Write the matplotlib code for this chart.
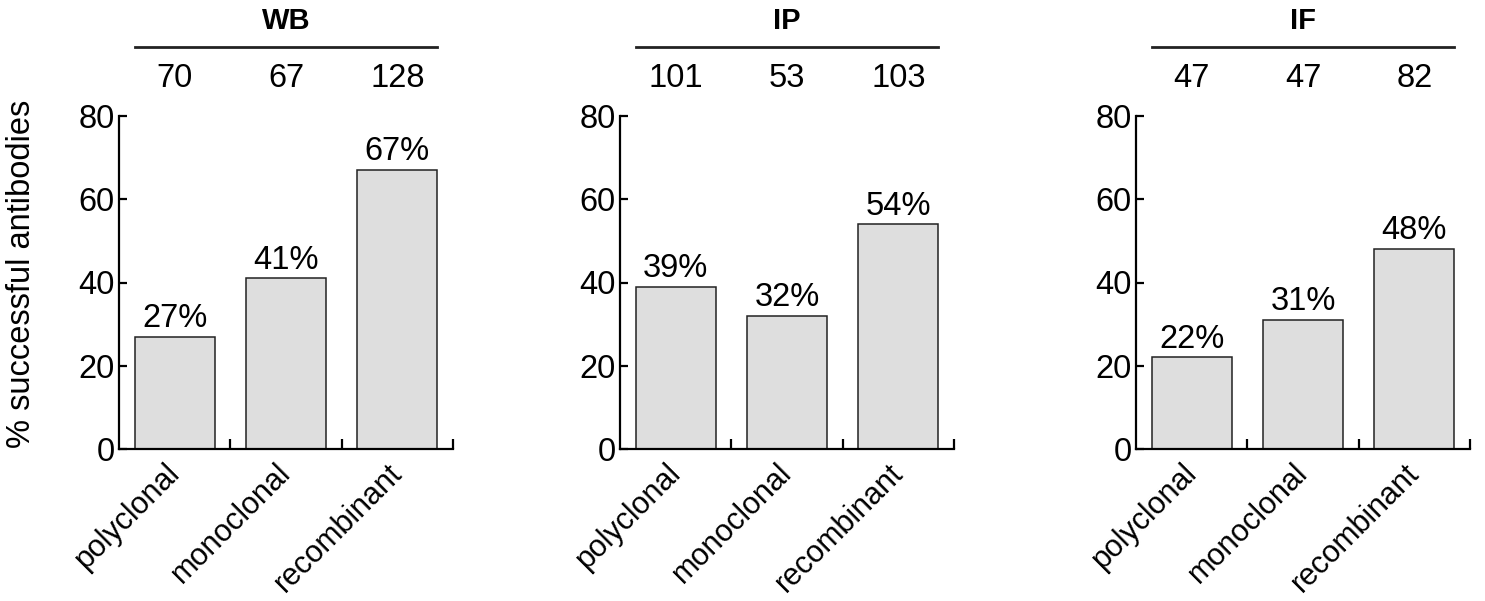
"""
Antibody success rate by assay and antibody type.
"""
import matplotlib
matplotlib.use("Agg")
import matplotlib.pyplot as plt

plt.rcParams['font.family'] = ['Liberation Sans', 'DejaVu Sans']

assays = ["WB", "IP", "IF"]
categories = ["polyclonal", "monoclonal", "recombinant"]
# percent successful, per assay
success = {
    "WB": [27, 41, 67],
    "IP": [39, 32, 54],
    "IF": [22, 31, 48],
}
# number of antibodies tested, per assay
counts = {
    "WB": [70, 67, 128],
    "IP": [101, 53, 103],
    "IF": [47, 47, 82],
}

fig = plt.figure(figsize=(14.85, 6.01), dpi=100)
lefts = [119 / 1485, 620 / 1485, 1136 / 1485]
W = 334 / 1485
B = 1 - 449 / 601
H = 333 / 601

fs = 23.5
for left, assay in zip(lefts, assays):
    ax = fig.add_axes([left, B, W, H])
    xs = range(len(categories))
    vals = success[assay]
    ax.bar(xs, vals, width=0.72, color="#dedede", edgecolor="#222222", linewidth=1.1, zorder=2)
    ax.set_xlim(-0.5, 2.5)
    ax.set_ylim(0, 80)
    ax.set_yticks([0, 20, 40, 60, 80])
    ax.tick_params(axis="y", direction="in", length=6, width=1.6, labelsize=fs, pad=3)

    # category labels under the bars, separator ticks between them
    ax.set_xticks(list(xs))
    ax.set_xticklabels(categories, rotation=45, ha="right", va="center",
                       rotation_mode="anchor", fontsize=22)
    ax.tick_params(axis="x", which="major", length=0, pad=14)
    ax.set_xticks([0.5, 1.5, 2.5], minor=True)
    ax.tick_params(axis="x", which="minor", direction="in", length=7, width=1.6)

    for s in ["top", "right"]:
        ax.spines[s].set_visible(False)
    for s in ["left", "bottom"]:
        ax.spines[s].set_linewidth(1.6)

    for x, v in zip(xs, vals):
        ax.annotate(f"{v}%", (x, v), xytext=(0, 7), textcoords="offset points",
                    ha="center", va="baseline", fontsize=fs)
    for x, n in zip(xs, counts[assay]):
        ax.text(x, 89, str(n), ha="center", va="center", fontsize=fs, clip_on=False)

    ax.plot([-0.36, 2.36], [96.6, 96.6], color="#222222", lw=2, clip_on=False)
    ax.text(1, 102.8, assay, ha="center", va="center", fontsize=21, fontweight="bold", clip_on=False)

fig.text(22 / 1485, 1 - 274 / 601, "% successful antibodies", rotation=90,
         ha="center", va="center", fontsize=fs)

fig.savefig("out.png", dpi=100)
